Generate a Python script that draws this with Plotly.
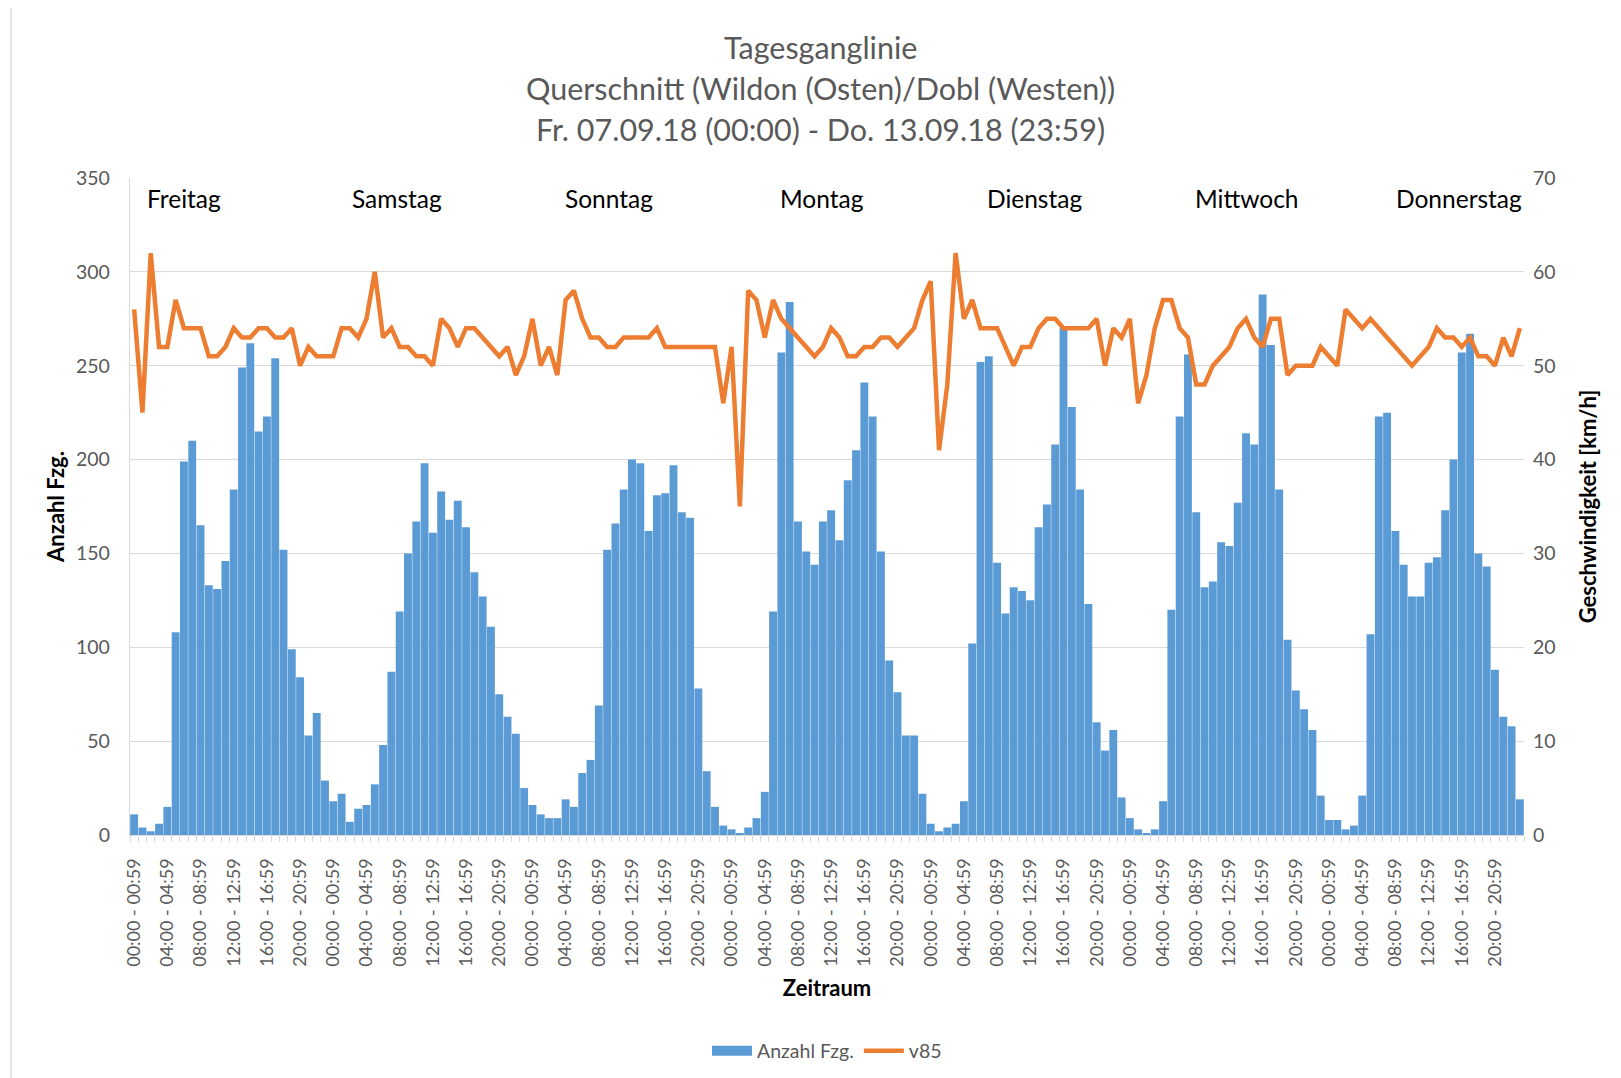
import plotly.graph_objects as go

# ---------------- data ----------------
title_lines = ["Tagesganglinie",
               "Querschnitt (Wildon (Osten)/Dobl (Westen))",
               "Fr. 07.09.18 (00:00) - Do. 13.09.18 (23:59)"]

days = ["Freitag", "Samstag", "Sonntag", "Montag", "Dienstag", "Mittwoch", "Donnerstag"]

hour_labels = ["00:00 - 00:59", "01:00 - 01:59", "02:00 - 02:59", "03:00 - 03:59",
               "04:00 - 04:59", "05:00 - 05:59", "06:00 - 06:59", "07:00 - 07:59",
               "08:00 - 08:59", "09:00 - 09:59", "10:00 - 10:59", "11:00 - 11:59",
               "12:00 - 12:59", "13:00 - 13:59", "14:00 - 14:59", "15:00 - 15:59",
               "16:00 - 16:59", "17:00 - 17:59", "18:00 - 18:59", "19:00 - 19:59",
               "20:00 - 20:59", "21:00 - 21:59", "22:00 - 22:59", "23:00 - 23:59"]

# Anzahl Fzg. per hour
cnt_fr = [11, 4, 2, 6, 15, 108, 199, 210, 165, 133, 131, 146, 184, 249, 262, 215, 223, 254, 152, 99, 84, 53, 65, 29]
cnt_sa = [18, 22, 7, 14, 16, 27, 48, 87, 119, 150, 167, 198, 161, 183, 168, 178, 164, 140, 127, 111, 75, 63, 54, 25]
cnt_so = [16, 11, 9, 9, 19, 15, 33, 40, 69, 152, 166, 184, 200, 198, 162, 181, 182, 197, 172, 169, 78, 34, 15, 5]
cnt_mo = [3, 1, 4, 9, 23, 119, 257, 284, 167, 151, 144, 167, 173, 157, 189, 205, 241, 223, 151, 93, 76, 53, 53, 22]
cnt_di = [6, 2, 4, 6, 18, 102, 252, 255, 145, 118, 132, 130, 125, 164, 176, 208, 270, 228, 184, 123, 60, 45, 56, 20]
cnt_mi = [9, 3, 1, 3, 18, 120, 223, 256, 172, 132, 135, 156, 154, 177, 214, 208, 288, 261, 184, 104, 77, 67, 56, 21]
cnt_do = [8, 8, 3, 5, 21, 107, 223, 225, 162, 144, 127, 127, 145, 148, 173, 200, 257, 267, 150, 143, 88, 63, 58, 19]

# v85 [km/h] per hour
v_fr = [56, 45, 62, 52, 52, 57, 54, 54, 54, 51, 51, 52, 54, 53, 53, 54, 54, 53, 53, 54, 50, 52, 51, 51]
v_sa = [51, 54, 54, 53, 55, 60, 53, 54, 52, 52, 51, 51, 50, 55, 54, 52, 54, 54, 53, 52, 51, 52, 49, 51]
v_so = [55, 50, 52, 49, 57, 58, 55, 53, 53, 52, 52, 53, 53, 53, 53, 54, 52, 52, 52, 52, 52, 52, 52, 46]
v_mo = [52, 35, 58, 57, 53, 57, 55, 54, 53, 52, 51, 52, 54, 53, 51, 51, 52, 52, 53, 53, 52, 53, 54, 57]
v_di = [59, 41, 48, 62, 55, 57, 54, 54, 54, 52, 50, 52, 52, 54, 55, 55, 54, 54, 54, 54, 55, 50, 54, 53]
v_mi = [55, 46, 49, 54, 57, 57, 54, 53, 48, 48, 50, 51, 52, 54, 55, 53, 52, 55, 55, 49, 50, 50, 50, 52]
v_do = [51, 50, 56, 55, 54, 55, 54, 53, 52, 51, 50, 51, 52, 54, 53, 53, 52, 53, 51, 51, 50, 53, 51, 54]

counts = cnt_fr + cnt_sa + cnt_so + cnt_mo + cnt_di + cnt_mi + cnt_do
v85 = v_fr + v_sa + v_so + v_mo + v_di + v_mi + v_do
categories = hour_labels * len(days)
x = list(range(len(categories)))

FONT = "Lato, Calibri, sans-serif"
GRAY = "#595959"
GRID = "#d9d9d9"
BLUE = "#5B9BD5"
ORANGE = "#ED7D31"

fig = go.Figure()
fig.add_trace(go.Bar(x=x, y=counts, name="Anzahl Fzg.", marker=dict(color=BLUE, line=dict(width=0)),
                     yaxis="y", showlegend=False))
# legend-only entry drawn as a wide rectangle like the original
fig.add_trace(go.Scatter(x=[None], y=[None], name="Anzahl Fzg.", mode="lines",
                         line=dict(color=BLUE, width=12), yaxis="y", hoverinfo="skip"))
fig.add_trace(go.Scatter(x=x, y=v85, name="v85", mode="lines",
                         line=dict(color=ORANGE, width=4.5), yaxis="y2"))

OFF = 8  # body margin of the page
W, H = 1621 - OFF, 1078 - OFF
L, T = 130 - OFF, 178 - OFF
R = W - (1524 - OFF)
B = H - (835 - OFF)
pw, ph = W - L - R, H - T - B

def px_to_paper_x(px):
    return (px - OFF - L) / pw

def px_to_paper_y(py):
    return (H - B - (py - OFF)) / ph

annotations = []
for i, line in enumerate(title_lines):
    annotations.append(dict(text=line, xref="paper", yref="paper",
                            x=px_to_paper_x(820), y=px_to_paper_y(46.5 + 41.3 * i),
                            xanchor="center", yanchor="middle", showarrow=False,
                            font=dict(family=FONT, size=30.5, color=GRAY)))
for i, d in enumerate(days):
    annotations.append(dict(text=d, xref="paper", yref="paper",
                            x=px_to_paper_x(184 + 212.5 * i), y=px_to_paper_y(198),
                            xanchor="center", yanchor="middle", showarrow=False,
                            font=dict(family=FONT, size=24.5, color="black")))

fig.update_layout(
    width=W, height=H,
    margin=dict(l=L, r=R, t=T, b=B, autoexpand=False),
    paper_bgcolor="white", plot_bgcolor="white",
    bargap=0.05,
    showlegend=True,
    legend=dict(orientation="h", x=0.5, xanchor="center", y=px_to_paper_y(1051), yanchor="middle",
                font=dict(family=FONT, size=19.5, color=GRAY), itemwidth=40),
    font=dict(family=FONT, color=GRAY),
    annotations=annotations,
    xaxis=dict(range=[-0.5, len(x) - 0.5], tickmode="array", tickvals=x[::4], ticktext=categories[::4],
               tickangle=-90, ticks="", showgrid=False, zeroline=False,
               showline=True, linecolor=GRID, linewidth=1.3,
               tickfont=dict(family=FONT, size=18, color=GRAY), ticklabelstandoff=15,
               minor=dict(ticks="outside", tick0=-0.5, dtick=1, ticklen=6, tickcolor=GRID, tickwidth=1.3,
                          showgrid=False),
               title=dict(text="<b>Zeitraum</b>", font=dict(family=FONT, size=22, color="black"), standoff=14)),
    yaxis=dict(range=[0, 350], dtick=50, showgrid=True, gridcolor=GRID, gridwidth=1.3, zeroline=False,
               showline=True, linecolor=GRID, linewidth=1.3, ticks="",
               tickfont=dict(family=FONT, size=19.5, color=GRAY), ticklabelstandoff=15,
               title=dict(text="<b>Anzahl Fzg.</b>", font=dict(family=FONT, size=22, color="black"), standoff=5)),
    yaxis2=dict(range=[0, 70], dtick=10, overlaying="y", side="right", showgrid=False, zeroline=False,
                showline=False, ticks="",
                tickfont=dict(family=FONT, size=19.5, color=GRAY), ticklabelstandoff=8,
                title=dict(text="<b>Geschwindigkeit [km/h]</b>", font=dict(family=FONT, size=22, color="black"),
                           standoff=25)),
    shapes=[dict(type="rect", xref="paper", yref="paper",
                 x0=px_to_paper_x(11), x1=px_to_paper_x(1621 + 20),
                 y0=px_to_paper_y(1078 + 20), y1=px_to_paper_y(6),
                 line=dict(color=GRID, width=1.3), fillcolor="rgba(0,0,0,0)", layer="below")],
)

fig.write_html("out.html")
